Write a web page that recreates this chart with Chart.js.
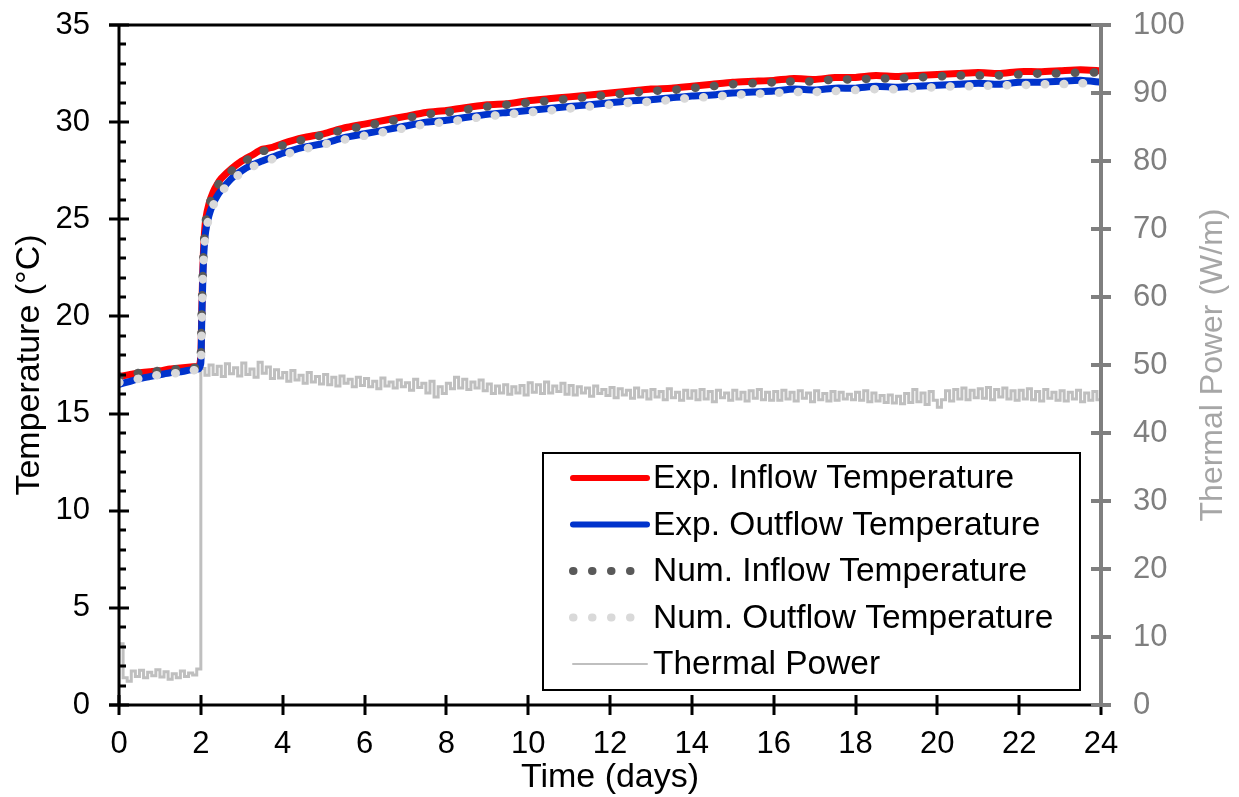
<!DOCTYPE html>
<html>
<head>
<meta charset="utf-8">
<script src="https://cdn.jsdelivr.net/npm/chart.js@4/dist/chart.umd.min.js"></script>
<style>
  html, body { margin: 0; padding: 0; background: #fff; overflow: hidden; }
  #chart { display: block; }
</style>
</head>
<body>
<canvas id="chart" width="1239" height="797"></canvas>
<script>
// ── Data ──

// time axis for the temperature series (days)
const tempDays = [
  0, 0.25, 0.5, 0.75, 1, 1.25, 1.5, 1.75, 1.95, 2.0, 2.02, 2.05, 2.08, 2.12, 2.2, 2.3, 2.4, 2.5,
  2.75, 3, 3.25, 3.5, 3.75, 4, 4.5, 5, 5.5, 6, 6.5, 7, 7.5, 8, 8.5, 9, 9.5, 10, 10.5, 11, 11.5,
  12, 12.5, 13, 13.5, 14, 14.5, 15, 15.5, 16, 16.5, 17, 17.5, 18, 18.5, 19, 19.5, 20, 20.5,
  21, 21.5, 22, 22.5, 23, 23.5, 24,
];

const expInflow = [
  16.9, 17.0, 17.1, 17.15, 17.2, 17.3, 17.35, 17.4, 17.45, 18.0, 20.0, 22.5, 24.0, 25.0, 25.8, 26.4, 26.8, 27.1,
  27.6, 28.0, 28.3, 28.6, 28.7, 28.9, 29.2, 29.4, 29.7, 29.9, 30.1, 30.3, 30.5, 30.6, 30.75, 30.9, 30.95, 31.1, 31.2, 31.3, 31.4,
  31.5, 31.6, 31.7, 31.75, 31.85, 31.95, 32.05, 32.1, 32.15, 32.25, 32.2, 32.3, 32.3, 32.4, 32.35, 32.4, 32.45, 32.5,
  32.55, 32.5, 32.6, 32.6, 32.65, 32.7, 32.65,
];

const expOutflow = [
  16.5, 16.65, 16.8, 16.9, 17.0, 17.1, 17.15, 17.25, 17.3, 17.6, 19.5, 22.0, 23.5, 24.4, 25.2, 25.8, 26.2, 26.5,
  27.1, 27.5, 27.8, 28.0, 28.2, 28.4, 28.7, 28.9, 29.2, 29.4, 29.6, 29.8, 30.0, 30.1, 30.25, 30.4, 30.5, 30.6, 30.7, 30.8, 30.9,
  31.0, 31.1, 31.15, 31.25, 31.35, 31.4, 31.5, 31.55, 31.6, 31.7, 31.65, 31.75, 31.75, 31.85, 31.8, 31.85, 31.9, 31.95,
  32.0, 31.95, 32.05, 32.05, 32.1, 32.15, 32.05,
];

const numInflow = [
  16.9, 17.0, 17.1, 17.15, 17.2, 17.25, 17.3, 17.35, 17.4, 18.0, 20.0, 22.4, 23.9, 24.9, 25.7, 26.3, 26.7, 27.0,
  27.5, 27.9, 28.2, 28.5, 28.6, 28.8, 29.1, 29.35, 29.6, 29.8, 30.0, 30.2, 30.4, 30.5, 30.65, 30.8, 30.9, 31.0, 31.1, 31.2, 31.3,
  31.4, 31.5, 31.6, 31.65, 31.75, 31.85, 31.95, 32.0, 32.05, 32.1, 32.1, 32.2, 32.2, 32.25, 32.25, 32.3, 32.35, 32.4,
  32.4, 32.4, 32.45, 32.5, 32.5, 32.55, 32.55,
];

const numOutflow = [
  16.6, 16.7, 16.8, 16.9, 17.0, 17.05, 17.1, 17.2, 17.3, 17.6, 19.4, 21.9, 23.4, 24.3, 25.1, 25.7, 26.1, 26.4,
  27.0, 27.4, 27.7, 27.9, 28.1, 28.3, 28.6, 28.85, 29.1, 29.3, 29.5, 29.7, 29.9, 30.0, 30.15, 30.3, 30.4, 30.5, 30.6, 30.7, 30.8,
  30.9, 31.0, 31.05, 31.15, 31.25, 31.3, 31.4, 31.45, 31.5, 31.55, 31.55, 31.6, 31.65, 31.7, 31.7, 31.75, 31.8, 31.85,
  31.85, 31.9, 31.9, 31.95, 31.95, 32.0, 32.0,
];

// thermal power, one reading every 0.1 day (W/m)
const powerStep = 0.1;
const thermalPower = [
  9.0, 4.0, 3.5, 5.0, 4.2, 5.1, 4.0, 4.8, 4.3, 5.2,
  4.1, 4.9, 3.8, 4.6, 4.0, 5.0, 4.2, 4.7, 4.4, 5.3,
  49.5, 48.5, 50.0, 48.6, 49.8, 48.3, 50.2, 48.7, 49.6, 48.4,
  50.3, 48.6, 49.4, 48.2, 50.4, 48.8, 49.7, 48.0, 49.3, 48.1,
  48.9, 47.6, 49.2, 47.8, 48.5, 47.3, 48.9, 47.5, 48.3, 47.2,
  48.6, 47.1, 48.2, 46.9, 48.4, 47.3, 47.9, 46.8, 48.2, 47.0,
  48.0, 46.8, 47.6, 46.5, 48.1, 46.9, 47.5, 46.6, 47.8, 46.8,
  47.4, 46.3, 47.9, 46.7, 47.3, 45.9, 47.6, 45.3, 46.8, 45.8,
  47.3, 46.5, 48.2, 46.6, 47.9, 46.4, 47.5, 46.6, 47.8, 46.2,
  47.2, 45.8, 46.9, 45.9, 47.1, 45.7, 46.8, 45.9, 47.0, 45.6,
  47.4, 46.0, 47.1, 45.8, 47.5, 45.9, 46.9, 46.1, 47.3, 45.7,
  47.0, 45.6, 46.8, 45.9, 46.6, 45.4, 46.9, 45.8, 46.4, 45.5,
  46.7, 45.2, 46.5, 45.6, 46.3, 45.1, 46.6, 45.3, 46.2, 45.0,
  46.4, 45.3, 46.1, 44.9, 46.5, 45.2, 46.0, 44.8, 46.3, 45.1,
  46.2, 44.9, 46.4, 45.0, 46.1, 44.6, 46.3, 45.2, 45.9, 44.8,
  46.3, 45.0, 46.0, 44.7, 46.2, 45.1, 46.4, 44.9, 46.0, 44.8,
  46.1, 44.8, 46.3, 45.0, 46.0, 44.7, 46.2, 45.1, 45.9, 44.6,
  46.2, 44.9, 45.8, 44.7, 46.1, 44.8, 46.0, 45.0, 45.7, 44.9,
  46.0, 44.8, 46.2, 44.6, 45.9, 44.7, 45.5, 44.5, 45.6, 44.4,
  45.4, 44.3, 45.8, 44.5, 46.4, 44.6, 45.9, 44.2, 46.1, 44.8,
  43.8, 44.9, 46.2, 44.7, 46.4, 45.0, 46.6, 44.9, 46.3, 45.2,
  46.5, 45.1, 46.7, 44.9, 46.4, 45.3, 46.6, 45.0, 46.2, 44.8,
  46.3, 45.0, 46.5, 44.9, 46.1, 44.7, 46.4, 45.1, 46.0, 44.8,
  46.2, 44.7, 46.0, 45.0, 46.3, 44.6, 45.9, 44.8, 46.1, 44.9,
  45.8,
];

const xTicks = { min: 0, max: 24, step: 2 };
const tempTicks = { min: 0, max: 35, step: 5, minor: 1 };
const powerTicks = { min: 0, max: 100, step: 10 };

const seriesLabels = [
  "Exp. Inflow Temperature",
  "Exp. Outflow Temperature",
  "Num. Inflow Temperature",
  "Num. Outflow Temperature",
  "Thermal Power",
];

// ── Helpers ──

const FONT = "'Liberation Sans', Arial, sans-serif";

function pairs(xs, ys) {
  return ys.map((y, i) => ({ x: xs[i], y }));
}

const powerPoints = thermalPower.map((v, i) => ({ x: +(i * powerStep).toFixed(2), y: v }));

// fixed box sizes so the plot area lands where the original has it
function fitBox(size, key) {
  return (s) => {
    s[key] = size;
    s.paddingTop = 0;
    s.paddingBottom = 0;
    s.paddingLeft = 0;
    s.paddingRight = 0;
  };
}

// ── Axes, ticks, titles and legend box drawn like the Excel original ──

const excelFrame = {
  id: "excelFrame",
  afterDatasetsDraw(chart) {
    const { ctx, chartArea: a, scales } = chart;
    const sx = scales.x, sy = scales.y, sp = scales.y1;
    ctx.save();
    ctx.lineCap = "butt";

    // top border
    ctx.strokeStyle = "#000";
    ctx.lineWidth = 3;
    ctx.beginPath();
    ctx.moveTo(a.left - 10, a.top);
    ctx.lineTo(a.right - 9, a.top);
    ctx.stroke();

    // left axis with crossing major ticks and inner minor ticks
    ctx.beginPath();
    ctx.moveTo(a.left, a.top);
    ctx.lineTo(a.left, a.bottom);
    for (let v = tempTicks.min; v <= tempTicks.max; v += tempTicks.minor) {
      const y = Math.round(sy.getPixelForValue(v));
      if (v % tempTicks.step === 0) {
        ctx.moveTo(a.left - 10, y);
        ctx.lineTo(a.left + 10, y);
      } else {
        ctx.moveTo(a.left, y);
        ctx.lineTo(a.left + 7, y);
      }
    }
    ctx.stroke();

    // bottom axis
    ctx.beginPath();
    ctx.moveTo(a.left - 10, a.bottom);
    ctx.lineTo(a.right, a.bottom);
    for (let v = xTicks.min; v <= xTicks.max; v += xTicks.step) {
      const x = Math.round(sx.getPixelForValue(v));
      ctx.moveTo(x, a.bottom - 10);
      ctx.lineTo(x, a.bottom + 10);
    }
    ctx.stroke();

    // right axis (grey)
    ctx.strokeStyle = "#7f7f7f";
    ctx.lineWidth = 4;
    ctx.beginPath();
    ctx.moveTo(a.right, a.top - 1);
    ctx.lineTo(a.right, a.bottom + 1);
    for (let v = powerTicks.min; v <= powerTicks.max; v += powerTicks.step) {
      const y = Math.round(sp.getPixelForValue(v));
      ctx.moveTo(a.right - 10, y);
      ctx.lineTo(a.right + 10, y);
    }
    ctx.stroke();

    // axis titles
    ctx.font = `34px ${FONT}`;
    ctx.textAlign = "center";
    ctx.textBaseline = "middle";
    ctx.fillStyle = "#000";
    ctx.fillText("Time (days)", (a.left + a.right) / 2, 778);

    ctx.save();
    ctx.translate(30, (a.top + a.bottom) / 2);
    ctx.rotate(-Math.PI / 2);
    ctx.fillText("Temperature (°C)", 0, 0);
    ctx.restore();

    ctx.save();
    ctx.font = `32px ${FONT}`;
    ctx.fillStyle = "#a6a6a6";
    ctx.translate(1213, (a.top + a.bottom) / 2);
    ctx.rotate(-Math.PI / 2);
    ctx.fillText("Thermal Power (W/m)", 0, 0);
    ctx.restore();

    // legend box
    const box = { x: 543, y: 453, w: 537, h: 237 };
    ctx.fillStyle = "#fff";
    ctx.fillRect(box.x, box.y, box.w, box.h);
    ctx.strokeStyle = "#000";
    ctx.lineWidth = 2;
    ctx.strokeRect(box.x, box.y, box.w, box.h);

    const order = [0, 1, 2, 3, 4];
    ctx.font = `33.5px ${FONT}`;
    ctx.textAlign = "left";
    order.forEach((di, row) => {
      const ds = chart.data.datasets[di];
      const y = box.y + 25 + row * 46.5;
      ctx.save();
      ctx.strokeStyle = ds.borderColor;
      ctx.lineWidth = ds.legendWidth;
      ctx.lineCap = "round";
      ctx.setLineDash(ds.borderDash || []);
      ctx.beginPath();
      ctx.moveTo(box.x + 30, y);
      ctx.lineTo(box.x + 104, y);
      ctx.stroke();
      ctx.restore();
      ctx.fillStyle = "#000";
      ctx.fillText(ds.label, box.x + 110, y + 1);
    });

    ctx.restore();
  },
};

// ── Chart ──

const tickFont = { family: FONT, size: 31 };

new Chart(document.getElementById("chart"), {
  type: "line",
  data: {
    datasets: [
      {
        label: seriesLabels[0],
        data: pairs(tempDays, expInflow),
        borderColor: "#ff0000",
        borderWidth: 7,
        legendWidth: 6,
        pointRadius: 0,
        tension: 0.2,
        yAxisID: "y",
        order: 4,
      },
      {
        label: seriesLabels[1],
        data: pairs(tempDays, expOutflow),
        borderColor: "#0033cc",
        borderWidth: 7,
        legendWidth: 6,
        pointRadius: 0,
        tension: 0.2,
        yAxisID: "y",
        order: 3,
      },
      {
        label: seriesLabels[2],
        data: pairs(tempDays, numInflow),
        borderColor: "#595959",
        borderWidth: 8.5,
        legendWidth: 8,
        borderDash: [0.5, 18.5],
        borderCapStyle: "round",
        pointRadius: 0,
        tension: 0.2,
        yAxisID: "y",
        order: 2,
      },
      {
        label: seriesLabels[3],
        data: pairs(tempDays, numOutflow),
        borderColor: "#d9d9d9",
        borderWidth: 8.5,
        legendWidth: 8,
        borderDash: [0.5, 18.5],
        borderCapStyle: "round",
        pointRadius: 0,
        tension: 0.2,
        yAxisID: "y",
        order: 1,
      },
      {
        label: seriesLabels[4],
        data: powerPoints,
        borderColor: "#bfbfbf",
        borderWidth: 3,
        legendWidth: 2,
        stepped: true,
        pointRadius: 0,
        tension: 0,
        yAxisID: "y1",
        order: 5,
      },
    ],
  },
  options: {
    responsive: false,
    animation: false,
    events: [],
    layout: { padding: { top: 25, left: 0, right: 0, bottom: 0 } },
    plugins: {
      legend: { display: false },
      tooltip: { enabled: false },
    },
    scales: {
      x: {
        type: "linear",
        min: xTicks.min,
        max: xTicks.max,
        ticks: { stepSize: xTicks.step, color: "#000", font: tickFont, padding: 13, maxRotation: 0 },
        grid: { display: false },
        border: { display: false },
        afterFit: fitBox(92, "height"),
      },
      y: {
        position: "left",
        min: tempTicks.min,
        max: tempTicks.max,
        ticks: { stepSize: tempTicks.step, color: "#000", font: tickFont, padding: 21 },
        grid: { display: false },
        border: { display: false },
        afterFit: fitBox(119, "width"),
      },
      y1: {
        position: "right",
        min: powerTicks.min,
        max: powerTicks.max,
        ticks: { stepSize: powerTicks.step, color: "#7f7f7f", font: tickFont, padding: 24 },
        grid: { display: false },
        border: { display: false },
        afterFit: fitBox(138, "width"),
      },
    },
  },
  plugins: [excelFrame],
});
</script>
</body>
</html>
